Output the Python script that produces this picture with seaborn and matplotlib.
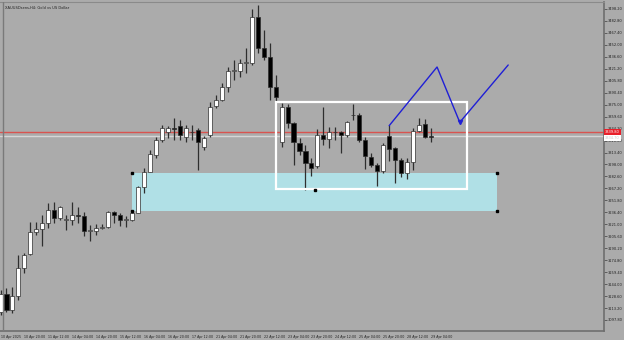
import numpy as np
import pandas as pd
import matplotlib
matplotlib.use("Agg")
import matplotlib.pyplot as plt
import matplotlib.transforms as mtransforms
from matplotlib.patches import Rectangle
import seaborn as sns

# ---------------- data (XAUUSD H4) ----------------
opens = [3108.1, 3131.3, 3110.6, 3128.7, 3164.7, 3182.8, 3211.1, 3214.9, 3222.7, 3239.4,
         3229.1, 3226.5, 3226.5, 3233.0, 3231.7, 3212.4, 3212.4, 3216.2, 3217.5, 3236.8,
         3233.0, 3226.5, 3226.5, 3235.5, 3269.0, 3288.3, 3310.2, 3329.5, 3339.8, 3345.0,
         3347.6, 3333.4, 3339.8, 3342.4, 3320.5, 3336.0, 3373.3, 3381.0, 3397.8, 3418.4,
         3418.4, 3428.7, 3428.7, 3487.9, 3448.0, 3436.4, 3397.8, 3326.9, 3372.0, 3351.4,
         3325.7, 3315.4, 3299.9, 3296.0, 3336.0, 3330.8, 3339.8, 3339.8, 3336.0, 3361.7,
         3361.7, 3329.5, 3307.6, 3297.3, 3289.6, 3334.7, 3319.2, 3303.8, 3287.0, 3301.2,
         3341.1, 3350.1, 3334.7]
highs = [3136.4, 3139.0, 3140.3, 3181.5, 3184.0, 3224.0, 3224.0, 3233.0, 3248.4, 3249.7,
         3244.5, 3233.0, 3249.7, 3243.3, 3236.8, 3220.1, 3221.4, 3221.4, 3238.1, 3238.1,
         3235.5, 3231.7, 3239.4, 3270.3, 3293.5, 3316.7, 3333.4, 3348.8, 3347.6, 3357.9,
         3355.3, 3348.8, 3348.8, 3345.0, 3334.7, 3378.5, 3387.5, 3402.9, 3423.5, 3432.5,
         3433.8, 3448.0, 3498.2, 3503.4, 3471.2, 3454.4, 3413.2, 3377.2, 3375.9, 3352.7,
         3332.1, 3323.1, 3306.4, 3343.7, 3372.0, 3346.3, 3346.3, 3341.1, 3354.0, 3375.9,
         3364.3, 3333.4, 3312.8, 3299.9, 3325.7, 3348.8, 3320.5, 3306.4, 3306.4, 3345.0,
         3357.9, 3356.6, 3345.0]
lows = [3104.2, 3108.1, 3106.8, 3123.5, 3158.3, 3181.5, 3207.2, 3193.0, 3216.2, 3222.7,
        3226.5, 3213.6, 3220.1, 3222.7, 3205.9, 3199.5, 3207.2, 3214.9, 3216.2, 3222.7,
        3218.8, 3217.5, 3225.2, 3235.5, 3261.3, 3288.3, 3306.4, 3326.9, 3332.1, 3329.5,
        3329.5, 3326.9, 3329.5, 3290.9, 3316.7, 3333.4, 3370.7, 3379.8, 3391.3, 3406.8,
        3410.7, 3415.8, 3426.1, 3441.6, 3432.5, 3381.0, 3378.5, 3320.5, 3345.0, 3297.3,
        3310.2, 3265.2, 3283.2, 3293.5, 3323.1, 3319.2, 3329.5, 3312.8, 3333.4, 3355.3,
        3326.9, 3292.2, 3294.8, 3270.3, 3287.0, 3302.5, 3274.2, 3281.9, 3279.3, 3290.9,
        3339.8, 3332.1, 3326.9]
closes = [3131.3, 3110.6, 3128.7, 3164.7, 3181.5, 3211.1, 3214.9, 3222.7, 3239.4, 3229.1,
          3243.3, 3227.8, 3233.0, 3232.3, 3212.4, 3213.0, 3216.2, 3216.9, 3236.8, 3233.0,
          3226.5, 3227.2, 3235.5, 3269.0, 3288.3, 3311.5, 3329.5, 3345.0, 3345.0, 3344.3,
          3336.0, 3345.0, 3339.2, 3326.9, 3332.1, 3372.0, 3381.0, 3397.8, 3418.4, 3419.0,
          3428.7, 3429.3, 3487.9, 3448.0, 3436.4, 3397.8, 3384.9, 3372.0, 3351.4, 3326.9,
          3315.4, 3299.9, 3293.5, 3336.0, 3330.8, 3339.8, 3339.2, 3336.6, 3352.7, 3361.1,
          3329.5, 3308.9, 3297.3, 3289.6, 3323.1, 3317.9, 3303.8, 3287.0, 3301.2, 3341.1,
          3348.8, 3333.4, 3334.0]

time_labels = ["10 Apr 2025", "10 Apr 20:00", "11 Apr 12:00", "14 Apr 04:00", "14 Apr 20:00",
               "15 Apr 12:00", "16 Apr 04:00", "16 Apr 20:00", "17 Apr 12:00", "21 Apr 04:00",
               "21 Apr 20:00", "22 Apr 12:00", "23 Apr 04:00", "23 Apr 20:00", "24 Apr 12:00",
               "25 Apr 04:00", "25 Apr 20:00", "28 Apr 12:00", "29 Apr 04:00"]
price_ticks = [3498.20, 3482.80, 3467.40, 3452.00, 3436.60, 3421.20, 3405.80, 3390.40, 3375.00,
               3359.60, 3344.20, 3328.80, 3313.40, 3298.00, 3282.60, 3267.20, 3251.80, 3236.40,
               3221.00, 3205.60, 3190.20, 3174.80, 3159.40, 3144.00, 3128.60, 3113.20, 3097.80]

# annotation objects (bar index / price)
zone_bars = [22.0, 83.0]
zone_prices = [3238.1, 3287.0]
box_bars = [46.0, 78.0]
box_prices = [3266.1, 3378.1]
path_bars = [65.0, 73.0, 76.8, 84.9]
path_prices = [3348.0, 3423.5, 3352.3, 3426.1]
ask_price = 3339.8
bid_price = 3334.7
title = "XAUUSDsens,H4: Gold vs US Dollar"

# ---------------- drawing ----------------
BG = "#ABABAB"
FS = 2.6
FSX = 2.35
sns.set_style("white")
plt.rcParams['font.family'] = ['DejaVu Sans']

df = pd.DataFrame({"open": opens, "high": highs, "low": lows, "close": closes})
df["x"] = np.arange(len(df))
df["up"] = df["close"] >= df["open"]

fig = plt.figure(figsize=(6.24, 3.4), dpi=100, facecolor=BG)
ax = fig.add_axes([0.0, 9 / 340, 604 / 624, 329 / 340])
ax.set_facecolor(BG)
ax.set_xlim(-0.084, 100.92)
ax.set_ylim(3083.6, 3507.2)

# demand zone
ax.add_patch(Rectangle((zone_bars[0], zone_prices[0]), zone_bars[1] - zone_bars[0],
                       zone_prices[1] - zone_prices[0], facecolor="#B0E0E6",
                       edgecolor="none", zorder=0.5))
for bx in zone_bars:
    for py in zone_prices:
        ax.plot(bx, py, marker="s", ms=2.0, color="black", zorder=6)

# price lines
ax.axhline(ask_price, color="#D9534F", lw=1.0, zorder=1)
ax.axhline(bid_price, color="#D6D6D6", lw=1.0, zorder=1)

# wicks
ax.vlines(df["x"], df["low"], df["high"], color="#2E2E2E", lw=0.9, zorder=2)
# bodies
body_bottom = np.minimum(df["open"], df["close"])
body_h = np.maximum(np.abs(df["close"] - df["open"]), 0.9)
colors = np.where(df["up"], "white", "black")
ax.bar(df["x"], body_h, bottom=body_bottom, width=0.68, color=colors,
       edgecolor="#2E2E2E", linewidth=0.5, zorder=3)

# white range box
ax.add_patch(Rectangle((box_bars[0], box_prices[0]), box_bars[1] - box_bars[0],
                       box_prices[1] - box_prices[0], facecolor="none",
                       edgecolor="white", lw=1.6, zorder=4))
ax.plot(52.6, 3264.5, marker="s", ms=2.0, color="black", zorder=6)

# projected path
path_df = pd.DataFrame({"x": path_bars, "y": path_prices})
sns.lineplot(data=path_df, x="x", y="y", ax=ax, color="#1F1FD6", lw=1.0, sort=False, zorder=5)
ax.plot(path_bars[2], path_prices[2], marker="v", ms=3, color="#1F1FD6", zorder=5)

# left frame line
ax.axvline(0.42, color="#7A7A7A", lw=1.0, zorder=6)

# axes styling
ax.spines["left"].set_visible(False)
for s in ["right", "bottom"]:
    ax.spines[s].set_color("#6E6E6E")
    ax.spines[s].set_linewidth(1.2)
ax.spines["top"].set_color("#8A8A8A")
ax.spines["top"].set_linewidth(0.8)

ax.yaxis.tick_right()
ax.set_yticks(price_ticks)
ax.set_yticklabels([f"{p:.2f}" for p in price_ticks], fontsize=FS, color="#202020")
ax.set_xticks(np.arange(0, 4 * len(time_labels), 4))
ax.set_xticklabels(time_labels, fontsize=FSX, color="#202020", ha="left")
ax.tick_params(axis="both", length=2, width=0.6, color="#505050", pad=1.0)
ax.set_xlabel("")
ax.set_ylabel("")

# price labels on the scale
trans = mtransforms.blended_transform_factory(ax.transAxes, ax.transData)
ax.text(1.002, ask_price + 0.4, f"{ask_price:.2f}", transform=trans, fontsize=FS, color="white",
        va="center", ha="left", clip_on=False, zorder=7,
        bbox=dict(boxstyle="square,pad=0.3", fc="#E8202A", ec="none"))
ax.text(1.002, bid_price - 2.4, f"{bid_price:.2f}", transform=trans, fontsize=FS,
        color="#C8C8C8", va="center", ha="left", clip_on=False, zorder=7,
        bbox=dict(boxstyle="square,pad=0.3", fc="white", ec="none"))

fig.text(5 / 624, 1 - 8 / 340, title, fontsize=FS, color="#202020", va="center", ha="left")

fig.savefig("out.png", dpi=100, facecolor=BG)
